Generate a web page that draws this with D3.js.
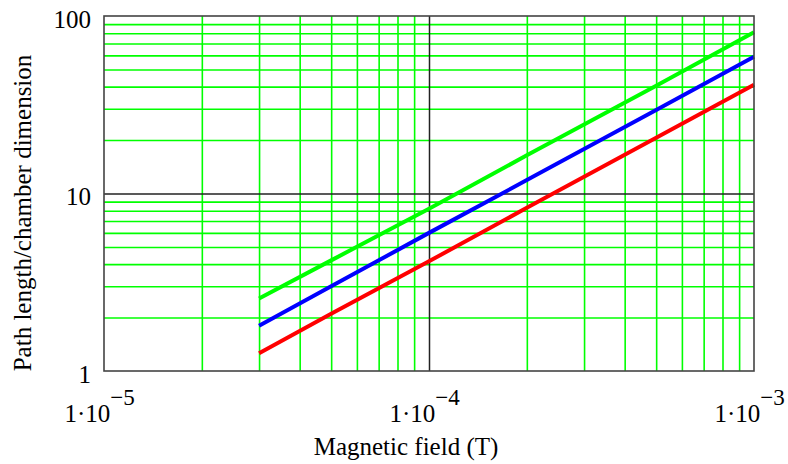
<!DOCTYPE html>
<html><head><meta charset="utf-8">
<script src="https://cdn.jsdelivr.net/npm/d3@7"></script>
<style>
body{margin:0;background:#fff;}
text{font-family:"Liberation Serif","Times New Roman",serif;fill:#000;}
</style></head>
<body>
<svg id="c" width="788" height="464"></svg>
<script>
const fieldT = [3e-5, 5e-5, 1e-4, 2e-4, 5e-4, 1e-3];
const greenSeries = [2.56, 4.2, 8.2, 16.4, 40.5, 81];
const blueSeries  = [1.8, 3.0, 6.0, 11.9, 29.5, 59];
const redSeries   = [1.26, 2.1, 4.15, 8.3, 20.6, 41];
const seriesColors = ["#00ff00", "#0000ff", "#ff0000"];
const xTickExponents = [-5, -4, -3];
const yTickLabels = [1, 10, 100];
const xTitle = "Magnetic field (T)";
const yTitle = "Path length/chamber dimension";

const L = 104, R = 754, T = 16, B = 371;
const FS = 25;
const svg = d3.select("#c");
const x = d3.scaleLog().domain([1e-5, 1e-3]).range([L, R]);
const y = d3.scaleLog().domain([1, 100]).range([B, T]);

// minor grid
const minorX = [], minorY = [];
[1e-5, 1e-4].forEach(d => { for (let k = 2; k <= 9; k++) minorX.push(d * k); });
[1, 10].forEach(d => { for (let k = 2; k <= 9; k++) minorY.push(d * k); });

svg.append("g").attr("transform", `translate(0,${B})`)
  .call(d3.axisBottom(x).tickValues(minorX).tickSize(-(B - T)).tickFormat(""))
  .call(g => g.select(".domain").remove())
  .call(g => g.selectAll("line").attr("stroke", "#00ff00").attr("stroke-width", 1.6));
svg.append("g").attr("transform", `translate(${L},0)`)
  .call(d3.axisLeft(y).tickValues(minorY).tickSize(-(R - L)).tickFormat(""))
  .call(g => g.select(".domain").remove())
  .call(g => g.selectAll("line").attr("stroke", "#00ff00").attr("stroke-width", 1.6));

// major grid
svg.append("g").attr("transform", `translate(0,${B})`)
  .call(d3.axisBottom(x).tickValues([1e-4]).tickSize(-(B - T)).tickFormat(""))
  .call(g => g.select(".domain").remove())
  .call(g => g.selectAll("line").attr("stroke", "#222").attr("stroke-width", 1.5));
svg.append("g").attr("transform", `translate(${L},0)`)
  .call(d3.axisLeft(y).tickValues([10]).tickSize(-(R - L)).tickFormat(""))
  .call(g => g.select(".domain").remove())
  .call(g => g.selectAll("line").attr("stroke", "#222").attr("stroke-width", 1.5));

// series
const all = [greenSeries, blueSeries, redSeries];
const line = d3.line().x((d, i) => x(fieldT[i])).y(d => y(d));
all.forEach((s, i) => {
  svg.append("path").datum(s).attr("d", line)
    .attr("fill", "none").attr("stroke", seriesColors[i]).attr("stroke-width", 4);
});

// frame
svg.append("rect").attr("x", L).attr("y", T).attr("width", R - L).attr("height", B - T)
  .attr("fill", "none").attr("stroke", "#444").attr("stroke-width", 1.6);

// y tick labels
svg.append("g").attr("transform", `translate(${L},0)`)
  .call(d3.axisLeft(y).tickValues(yTickLabels).tickSize(0).tickPadding(13).tickFormat(d3.format("d")))
  .call(g => g.select(".domain").remove())
  .call(g => g.selectAll("text").attr("font-size", FS).attr("font-family", "Liberation Serif")
    .attr("dy", null).attr("y", 11));

// x tick labels
const xg = svg.append("g").attr("transform", `translate(0,${B})`)
  .call(d3.axisBottom(x).tickValues(xTickExponents.map(e => Math.pow(10, e))).tickSize(0).tickFormat(""))
  .call(g => g.select(".domain").remove());
xg.selectAll(".tick").each(function(d, i) {
  const t = d3.select(this).append("text").attr("x", -40).attr("y", 51).attr("text-anchor", "start")
    .attr("font-size", FS).attr("font-family", "Liberation Serif").attr("fill", "#000");
  t.append("tspan").text("1\u00B710");
  t.append("tspan").attr("dy", -17).attr("font-size", 23).text("\u2212" + Math.abs(xTickExponents[i]));
});

svg.append("text").attr("x", 406).attr("y", 455).attr("text-anchor", "middle")
  .attr("font-size", FS).text(xTitle);
svg.append("text").attr("transform", "translate(31,213) rotate(-90)").attr("text-anchor", "middle")
  .attr("font-size", FS).text(yTitle);
</script>
</body></html>
